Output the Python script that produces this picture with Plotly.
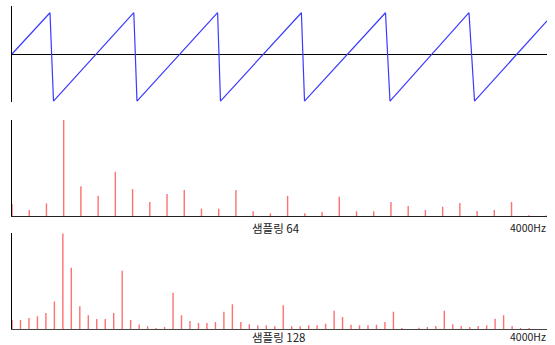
import plotly.graph_objects as go

# ---- data ----
# sawtooth corner points (time in ms, amplitude)
wave_t = [0.0, 1.136, 1.241, 3.643, 3.738, 6.149, 6.235, 8.655, 8.748,
          11.170, 11.304, 13.667, 13.832, 16.0]
wave_v = [0.0, 0.86, -0.98, 0.86, -0.98, 0.86, -0.98, 0.86, -0.98,
          0.86, -0.98, 0.86, -0.98, 0.69]

# spectrum magnitudes (relative), 64 samples -> 32 bins
spec64 = [0.125, 0.063, 0.132, 1.0, 0.31, 0.21, 0.46, 0.28, 0.146, 0.23,
          0.27, 0.076, 0.076, 0.27, 0.049, 0.028, 0.21, 0.028, 0.042, 0.20,
          0.049, 0.049, 0.146, 0.104, 0.063, 0.097, 0.135, 0.052, 0.063, 0.146,
          0.008, 0.004]

# spectrum magnitudes (relative), 128 samples -> 64 bins
spec128 = [0.097, 0.097, 0.118, 0.135, 0.17, 0.29, 1.0, 0.64, 0.24, 0.146,
           0.107, 0.107, 0.17, 0.61, 0.097, 0.049, 0.031, 0.014, 0.024, 0.38,
           0.146, 0.086, 0.066, 0.066, 0.076, 0.184, 0.26, 0.076, 0.052, 0.042,
           0.042, 0.031, 0.25, 0.031, 0.031, 0.042, 0.042, 0.058, 0.194, 0.128,
           0.048, 0.042, 0.042, 0.048, 0.076, 0.183, 0.014, 0.004, 0.017, 0.024,
           0.034, 0.194, 0.052, 0.034, 0.024, 0.034, 0.042, 0.11, 0.146, 0.034,
           0.014, 0.014, 0.004, 0.002]

label64 = "샘플링 64"
label128 = "샘플링 128"
freq_label = "4000Hz"

W, H = 555, 345
X0, X1 = 12, 547
FONT = "Noto Sans CJK KR, Noto Sans, sans-serif"


def px_x(p):
    return p / W


def px_y(p):
    return 1 - p / H


def stems(vals):
    xs, ys = [], []
    for k, v in enumerate(vals):
        xs += [k, k, None]
        ys += [0, v, None]
    return xs, ys


fig = go.Figure()

# top: waveform
fig.add_trace(go.Scatter(x=wave_t, y=wave_v, mode="lines",
                         line=dict(color="#3a3aff", width=1.2),
                         xaxis="x", yaxis="y", hoverinfo="skip"))

# middle: 64-sample spectrum
x64, y64 = stems(spec64)
fig.add_trace(go.Scatter(x=x64, y=y64, mode="lines",
                         line=dict(color="#ff7070", width=1.4),
                         xaxis="x2", yaxis="y2", hoverinfo="skip"))

# bottom: 128-sample spectrum
x128, y128 = stems(spec128)
fig.add_trace(go.Scatter(x=x128, y=y128, mode="lines",
                         line=dict(color="#ff7070", width=1.4),
                         xaxis="x3", yaxis="y3", hoverinfo="skip"))

xdom = [px_x(X0), px_x(X1)]
n64 = (len(spec64) - 1) * (X1 - X0) / 534.0
n128 = (len(spec128) - 1) * (X1 - X0) / 534.0

common_x = dict(showgrid=False, zeroline=False, showticklabels=False,
                ticks="", fixedrange=True)
common_y = dict(showgrid=False, showticklabels=False, ticks="",
                fixedrange=True, showline=True, linecolor="#000000",
                linewidth=1, layer="below traces")

fig.update_layout(
    width=W, height=H,
    margin=dict(l=0, r=0, t=0, b=0),
    paper_bgcolor="white", plot_bgcolor="white",
    showlegend=False,
    xaxis=dict(domain=xdom, range=[0, 16], anchor="y", showline=False,
               **common_x),
    yaxis=dict(domain=[px_y(102), px_y(6)], range=[-1, 1], anchor="x",
               zeroline=True, zerolinecolor="#000000", zerolinewidth=1,
               **common_y),
    xaxis2=dict(domain=xdom, range=[0, n64], anchor="y2", showline=True,
                linecolor="#222222", linewidth=1, layer="below traces",
                **common_x),
    yaxis2=dict(domain=[px_y(216), px_y(120)], range=[0, 1], anchor="x2",
                zeroline=False, **common_y),
    xaxis3=dict(domain=xdom, range=[0, n128], anchor="y3", showline=True,
                linecolor="#444444", linewidth=1, layer="below traces",
                **common_x),
    yaxis3=dict(domain=[px_y(329.3), px_y(233.3)], range=[0, 1], anchor="x3",
                zeroline=False, **common_y),
)

annos = [
    (label64, 250, 227.5, "left", 11.5),
    (freq_label, 548, 227.5, "right", 10.5),
    (label128, 250, 336.5, "left", 11.5),
    (freq_label, 548, 336.5, "right", 10.5),
]
for txt, xp, yp, anc, sz in annos:
    fig.add_annotation(text=txt, x=px_x(xp), y=px_y(yp), xref="paper",
                       yref="paper", xanchor=anc, yanchor="middle",
                       showarrow=False,
                       font=dict(family=FONT, size=sz, color="#222222"))

# remove the default 8px page margin so figure pixels match window pixels
fig.write_html("out.html",
               config={"displayModeBar": False, "staticPlot": True},
               post_script="document.body.style.margin='0px';"
                           "document.body.style.overflow='hidden';")
